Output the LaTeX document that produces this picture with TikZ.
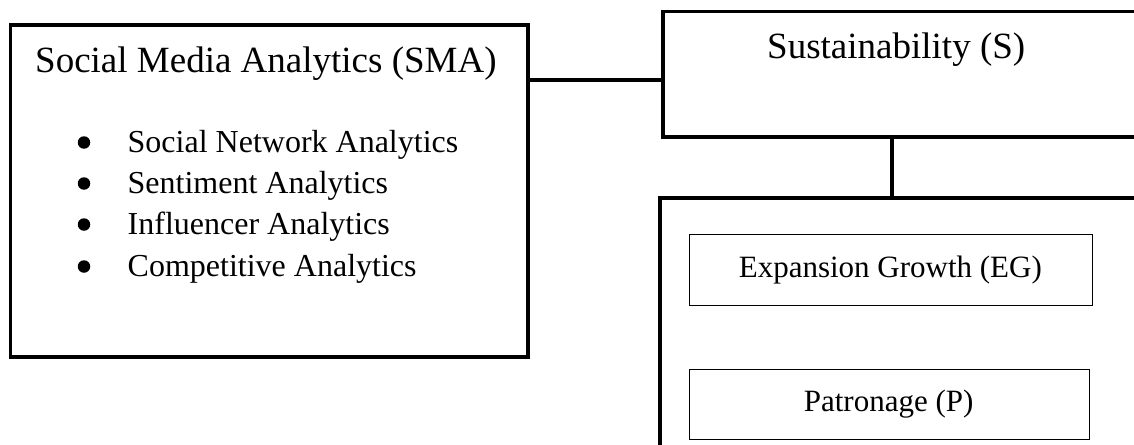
\documentclass[tikz,border=0pt]{standalone}
\usepackage{fontspec}
\setmainfont{Liberation Serif}
\begin{document}
\begin{tikzpicture}[x=1pt,y=-1pt,
  thickbox/.style={draw=black,line width=3.5pt,fill=white},
  thinbox/.style={draw=black,line width=1.4pt},
  conn/.style={draw=black,line width=3.5pt},
  big/.style={inner sep=0pt,anchor=base west,font=\fontsize{37}{44}\selectfont},
  item/.style={inner sep=0pt,anchor=base west,font=\fontsize{32}{38}\selectfont},
  subitem/.style={inner sep=0pt,anchor=base west,font=\fontsize{31}{37}\selectfont},
  dot/.style={circle,fill=black,inner sep=0pt,minimum size=12.5pt}]
\useasboundingbox (0,0) rectangle (1134,444);
\clip (0,0) rectangle (1134,444);
% boxes
\node[thickbox,minimum width=517.5pt,minimum height=331.5pt,inner sep=0pt,anchor=north west] (sma) at (8.6,23.5) {};
\node[thickbox,minimum width=520pt,minimum height=125pt,inner sep=0pt,anchor=north west] (s) at (661,10) {};
\node[thickbox,minimum width=520pt,minimum height=300pt,inner sep=0pt,anchor=north west] (outc) at (658,196) {};
\node[thinbox,minimum width=403pt,minimum height=71pt,inner sep=0pt,anchor=north west] (eg) at (689,234) {};
\node[thinbox,minimum width=399.6pt,minimum height=70.4pt,inner sep=0pt,anchor=north west] (p) at (689,368.6) {};
% texts
\node[big] (smat) at (35,73) {Social Media Analytics (SMA)};
\node[item] (i1) at (127.5,152) {Social Network Analytics};
\node[item] (i2) at (127.5,193) {Sentiment Analytics};
\node[item] (i3) at (127.5,234) {Influencer Analytics};
\node[item] (i4) at (127.5,276) {Competitive Analytics};
\foreach \yy/\nm in {152/b1,193/b2,234/b3,276/b4}
  \node[dot] (\nm) at (84,\yy-9.5) {};
\node[big] (st) at (767,59) {Sustainability (S)};
\node[subitem] (egt) at (738.6,277) {Expansion Growth (EG)};
\node[subitem] (pt) at (803.6,411) {Patronage (P)};
% connectors
\coordinate (hy) at (0,80);
\coordinate (vx) at (892,0);
\draw[conn] (sma.east |- hy) -- (s.west |- hy);
\draw[conn] (s.south -| vx) -- (outc.north -| vx);
\end{tikzpicture}
\end{document}
